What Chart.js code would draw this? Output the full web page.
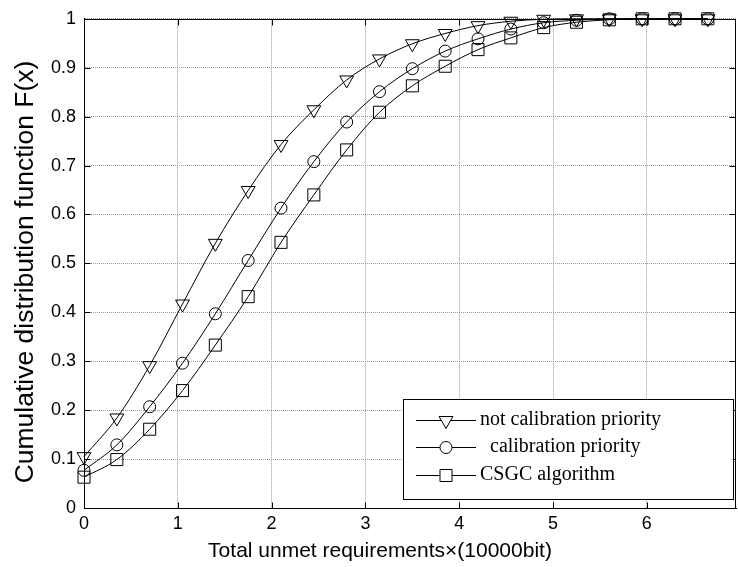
<!DOCTYPE html>
<html>
<head>
<meta charset="utf-8">
<script src="https://cdn.jsdelivr.net/npm/chart.js@4.4.1/dist/chart.umd.min.js"></script>
<style>
  html, body { margin: 0; padding: 0; background: #fff; }
  #wrap { width: 738px; height: 567px; }
</style>
</head>
<body>
<div id="wrap"><canvas id="cdfChart" width="738" height="567"></canvas></div>
<script>
// данные
const xValues = [0, 0.35, 0.7, 1.05, 1.4, 1.75, 2.1, 2.45, 2.8, 3.15, 3.5, 3.85, 4.2, 4.55, 4.9, 5.25, 5.6, 5.95, 6.3, 6.65];
const notCalibration = [0.105, 0.184, 0.291, 0.417, 0.541, 0.649, 0.743, 0.814, 0.875, 0.918, 0.949, 0.970, 0.986, 0.995, 0.999, 1, 1, 1, 1, 1];
const calibration = [0.077, 0.129, 0.207, 0.296, 0.397, 0.506, 0.613, 0.708, 0.789, 0.851, 0.898, 0.934, 0.959, 0.979, 0.992, 0.997, 1, 1, 1, 1];
const csgc = [0.063, 0.099, 0.161, 0.240, 0.333, 0.432, 0.543, 0.640, 0.732, 0.809, 0.863, 0.903, 0.937, 0.961, 0.982, 0.993, 0.998, 1, 1, 1];
const seriesNames = ['not calibration priority', '  calibration priority', 'CSGC algorithm'];
const xTitle = 'Total unmet requirements\u00d7(10000bit)';
const yTitle = 'Cumulative distribution function F(x)';

const sansFont = 'Arial, "Liberation Sans", sans-serif';

function toPoints(ys) {
    return xValues.map((x, i) => ({ x: x, y: ys[i] }));
}

function makeSet(label, ys, style, radius, rotation) {
    return {
        label: label,
        data: toPoints(ys),
        borderColor: '#000',
        borderWidth: 1,
        backgroundColor: 'rgba(0,0,0,0)',
        pointStyle: style,
        pointRadius: radius,
        pointRotation: rotation,
        pointBorderColor: '#000',
        pointBackgroundColor: 'rgba(0,0,0,0)',
        pointBorderWidth: 1,
        cubicInterpolationMode: 'monotone',
        fill: false,
        clip: false
    };
}

// рамка, засечки, подписи осей и легенда
const framePlugin = {
    id: 'frame',
    afterDraw(chart) {
        const ctx = chart.ctx;
        const a = chart.chartArea;
        const L = Math.round(a.left) + 0.5, R = Math.round(a.right) - 0.5;
        const T = Math.round(a.top) + 0.5, B = Math.round(a.bottom) + 0.5;
        ctx.save();
        ctx.strokeStyle = '#000';
        ctx.lineWidth = 1;
        ctx.strokeRect(L, T, R - L, B - T);

        // засечки внутрь, как в MATLAB
        ctx.beginPath();
        chart.scales.x.ticks.forEach(t => {
            const px = Math.round(chart.scales.x.getPixelForValue(t.value)) + 0.5;
            ctx.moveTo(px, B); ctx.lineTo(px, B - 6);
            ctx.moveTo(px, T); ctx.lineTo(px, T + 6);
        });
        chart.scales.y.ticks.forEach(t => {
            const py = Math.round(chart.scales.y.getPixelForValue(t.value)) + 0.5;
            ctx.moveTo(L, py); ctx.lineTo(L + 6, py);
            ctx.moveTo(R, py); ctx.lineTo(R - 6, py);
        });
        ctx.stroke();

        // подписи осей (в оригинале смещены от центра)
        ctx.fillStyle = '#000';
        ctx.textAlign = 'center';
        ctx.textBaseline = 'alphabetic';
        ctx.font = '21px ' + sansFont;
        ctx.fillText(xTitle, 380, 557);
        ctx.save();
        ctx.translate(33, 272);
        ctx.rotate(-Math.PI / 2);
        ctx.font = '26.5px ' + sansFont;
        ctx.fillText(yTitle, 0, 0);
        ctx.restore();

        // легенда
        const bx = 403, by = 399, bw = 330, bh = 100;
        ctx.fillStyle = '#fff';
        ctx.fillRect(bx, by, bw, bh);
        ctx.strokeRect(bx + 0.5, by + 0.5, bw, bh);
        ctx.font = '20px "Liberation Serif", "Times New Roman", serif';
        ctx.textAlign = 'left';
        ctx.textBaseline = 'middle';
        const rowsY = [420, 447, 475];
        chart.data.datasets.forEach((ds, i) => {
            const y = rowsY[i] + 0.5;
            ctx.beginPath();
            ctx.moveTo(416, y);
            ctx.lineTo(476, y);
            ctx.stroke();
            ctx.fillStyle = '#fff';
            Chart.helpers.drawPoint(ctx, {
                pointStyle: ds.pointStyle,
                rotation: ds.pointRotation,
                radius: ds.pointRadius,
                borderWidth: 1
            }, 446, y);
            ctx.fillStyle = '#000';
            ctx.fillText(seriesNames[i], 480, rowsY[i]);
        });
        ctx.restore();
    }
};

const ctx = document.getElementById('cdfChart').getContext('2d');
window.cdfChart = new Chart(ctx, {
    type: 'line',
    data: {
        datasets: [
            makeSet(seriesNames[0], notCalibration, 'triangle', 8, 180),
            makeSet(seriesNames[1], calibration, 'circle', 6, 0),
            makeSet(seriesNames[2], csgc, 'rect', 8.5, 0)
        ]
    },
    options: {
        responsive: false,
        animation: false,
        layout: { autoPadding: false, padding: { top: 13, right: 2, bottom: 0, left: 0 } },
        plugins: {
            legend: { display: false },
            tooltip: { enabled: false }
        },
        scales: {
            x: {
                type: 'linear',
                min: 0,
                max: 6.95,
                afterFit: (scale) => {
                    scale.height = 59;
                    scale.paddingLeft = 0;
                    scale.paddingRight = 0;
                },
                ticks: { stepSize: 1, includeBounds: false, padding: 5, color: '#000', font: { family: sansFont, size: 18 } },
                grid: { color: '#999', lineWidth: 1, drawTicks: false },
                border: { color: '#000', dash: [1, 1] }
            },
            y: {
                min: 0,
                max: 1,
                afterFit: (scale) => { scale.width = 84; },
                ticks: {
                    stepSize: 0.1,
                    padding: 8,
                    color: '#000',
                    font: { family: sansFont, size: 18 },
                    callback: (v) => String(Number(v.toFixed(1)))
                },
                grid: { color: '#999', lineWidth: 1, drawTicks: false },
                border: { color: '#000', dash: [1, 1] }
            }
        }
    },
    plugins: [framePlugin]
});
</script>
</body>
</html>
